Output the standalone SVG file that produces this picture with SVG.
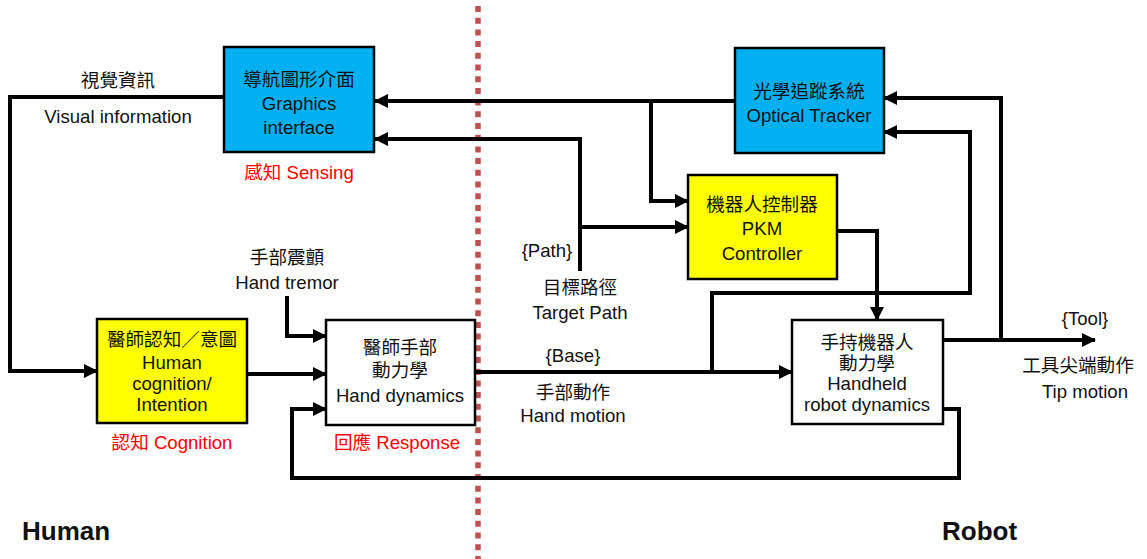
<svg xmlns="http://www.w3.org/2000/svg" width="1147" height="559" viewBox="0 0 1147 559">
<style>
text{font-family:"Liberation Sans","Noto Sans CJK TC",sans-serif;font-size:18.6px;fill:#111;text-anchor:middle;dominant-baseline:central}
.red{fill:#FF0000}
.big{font-size:26px;font-weight:bold;text-anchor:start}
.box{stroke:#000;stroke-width:2.5}
.ln{fill:none;stroke:#000;stroke-width:4;stroke-linejoin:miter}
.ar{marker-end:url(#ah)}
</style>
<defs>
<marker id="ah" markerUnits="userSpaceOnUse" markerWidth="14" markerHeight="14" viewBox="0 0 14 14" refX="13" refY="7" orient="auto">
<path d="M0,0 L14,7 L0,14 z" fill="#000"/>
</marker>
</defs>
<rect width="1147" height="559" fill="#fff"/>
<line x1="478" y1="6" x2="478" y2="559" stroke="#C0504D" stroke-width="5.5" stroke-dasharray="6 5.7"/>
<g id="connectors">
<path class="ln ar" d="M224,97 H10 V371 H97"/>
<path class="ln ar" d="M735,101 H375"/>
<path class="ln ar" d="M651,101 V201 H688"/>
<path class="ln ar" d="M580,271 V139 H375"/>
<path class="ln ar" d="M580,227 H688"/>
<path class="ln ar" d="M837,231 H877 V320"/>
<path class="ln ar" d="M476,372 H792"/>
<path class="ln ar" d="M712,372 V293 H970 V132 H884"/>
<path class="ln ar" d="M943,340 H1095"/>
<path class="ln ar" d="M1001,340 V98 H884"/>
<path class="ln ar" d="M943,409 H959 V478 H292 V409 H326"/>
<path class="ln ar" d="M247,374 H326"/>
<path class="ln ar" d="M287,296 V336 H326"/>
</g>
<g id="graphics">
<rect class="box" x="224" y="47" width="150" height="105" fill="#00B0F0"/>
<text x="299" y="79">導航圖形介面</text>
<text x="299" y="103">Graphics</text>
<text x="299" y="127">interface</text>
<text class="red" x="299" y="172">感知 Sensing</text>
</g>
<g id="tracker">
<rect class="box" x="735" y="48" width="149" height="105" fill="#00B0F0"/>
<text x="809" y="91">光學追蹤系統</text>
<text x="809" y="115">Optical Tracker</text>
</g>
<g id="pkm">
<rect class="box" x="688" y="175" width="149" height="104" fill="#FFFF00"/>
<text x="762" y="204">機器人控制器</text>
<text x="762" y="228">PKM</text>
<text x="762" y="253">Controller</text>
</g>
<g id="handheld">
<rect class="box" x="792" y="320" width="151" height="104" fill="#fff"/>
<text x="867" y="342">手持機器人</text>
<text x="867" y="363">動力學</text>
<text x="867" y="383">Handheld</text>
<text x="867" y="404">robot dynamics</text>
</g>
<g id="hand">
<rect class="box" x="326" y="320" width="149" height="105" fill="#fff"/>
<text x="400" y="347">醫師手部</text>
<text x="400" y="370">動力學</text>
<text x="400" y="395">Hand dynamics</text>
<text class="red" x="397" y="442">回應 Response</text>
</g>
<g id="cognition">
<rect class="box" x="97" y="319" width="150" height="104" fill="#FFFF00"/>
<text x="172" y="339">醫師認知／意圖</text>
<text x="172" y="362">Human</text>
<text x="172" y="383">cognition/</text>
<text x="172" y="404">Intention</text>
<text class="red" x="172" y="442">認知 Cognition</text>
</g>
<g id="labels">
<text x="118" y="80">視覺資訊</text>
<text x="118" y="116">Visual information</text>
<text x="287" y="257">手部震顫</text>
<text x="287" y="282">Hand tremor</text>
<text x="547" y="250">{Path}</text>
<text x="580" y="287">目標路徑</text>
<text x="580" y="312">Target Path</text>
<text x="573" y="355">{Base}</text>
<text x="573" y="392">手部動作</text>
<text x="573" y="415">Hand motion</text>
<text x="1085" y="318">{Tool}</text>
<text x="1078" y="365">工具尖端動作</text>
<text x="1085" y="391">Tip motion</text>
<text class="big" x="22" y="531">Human</text>
<text class="big" x="942" y="531">Robot</text>
</g>
</svg>
